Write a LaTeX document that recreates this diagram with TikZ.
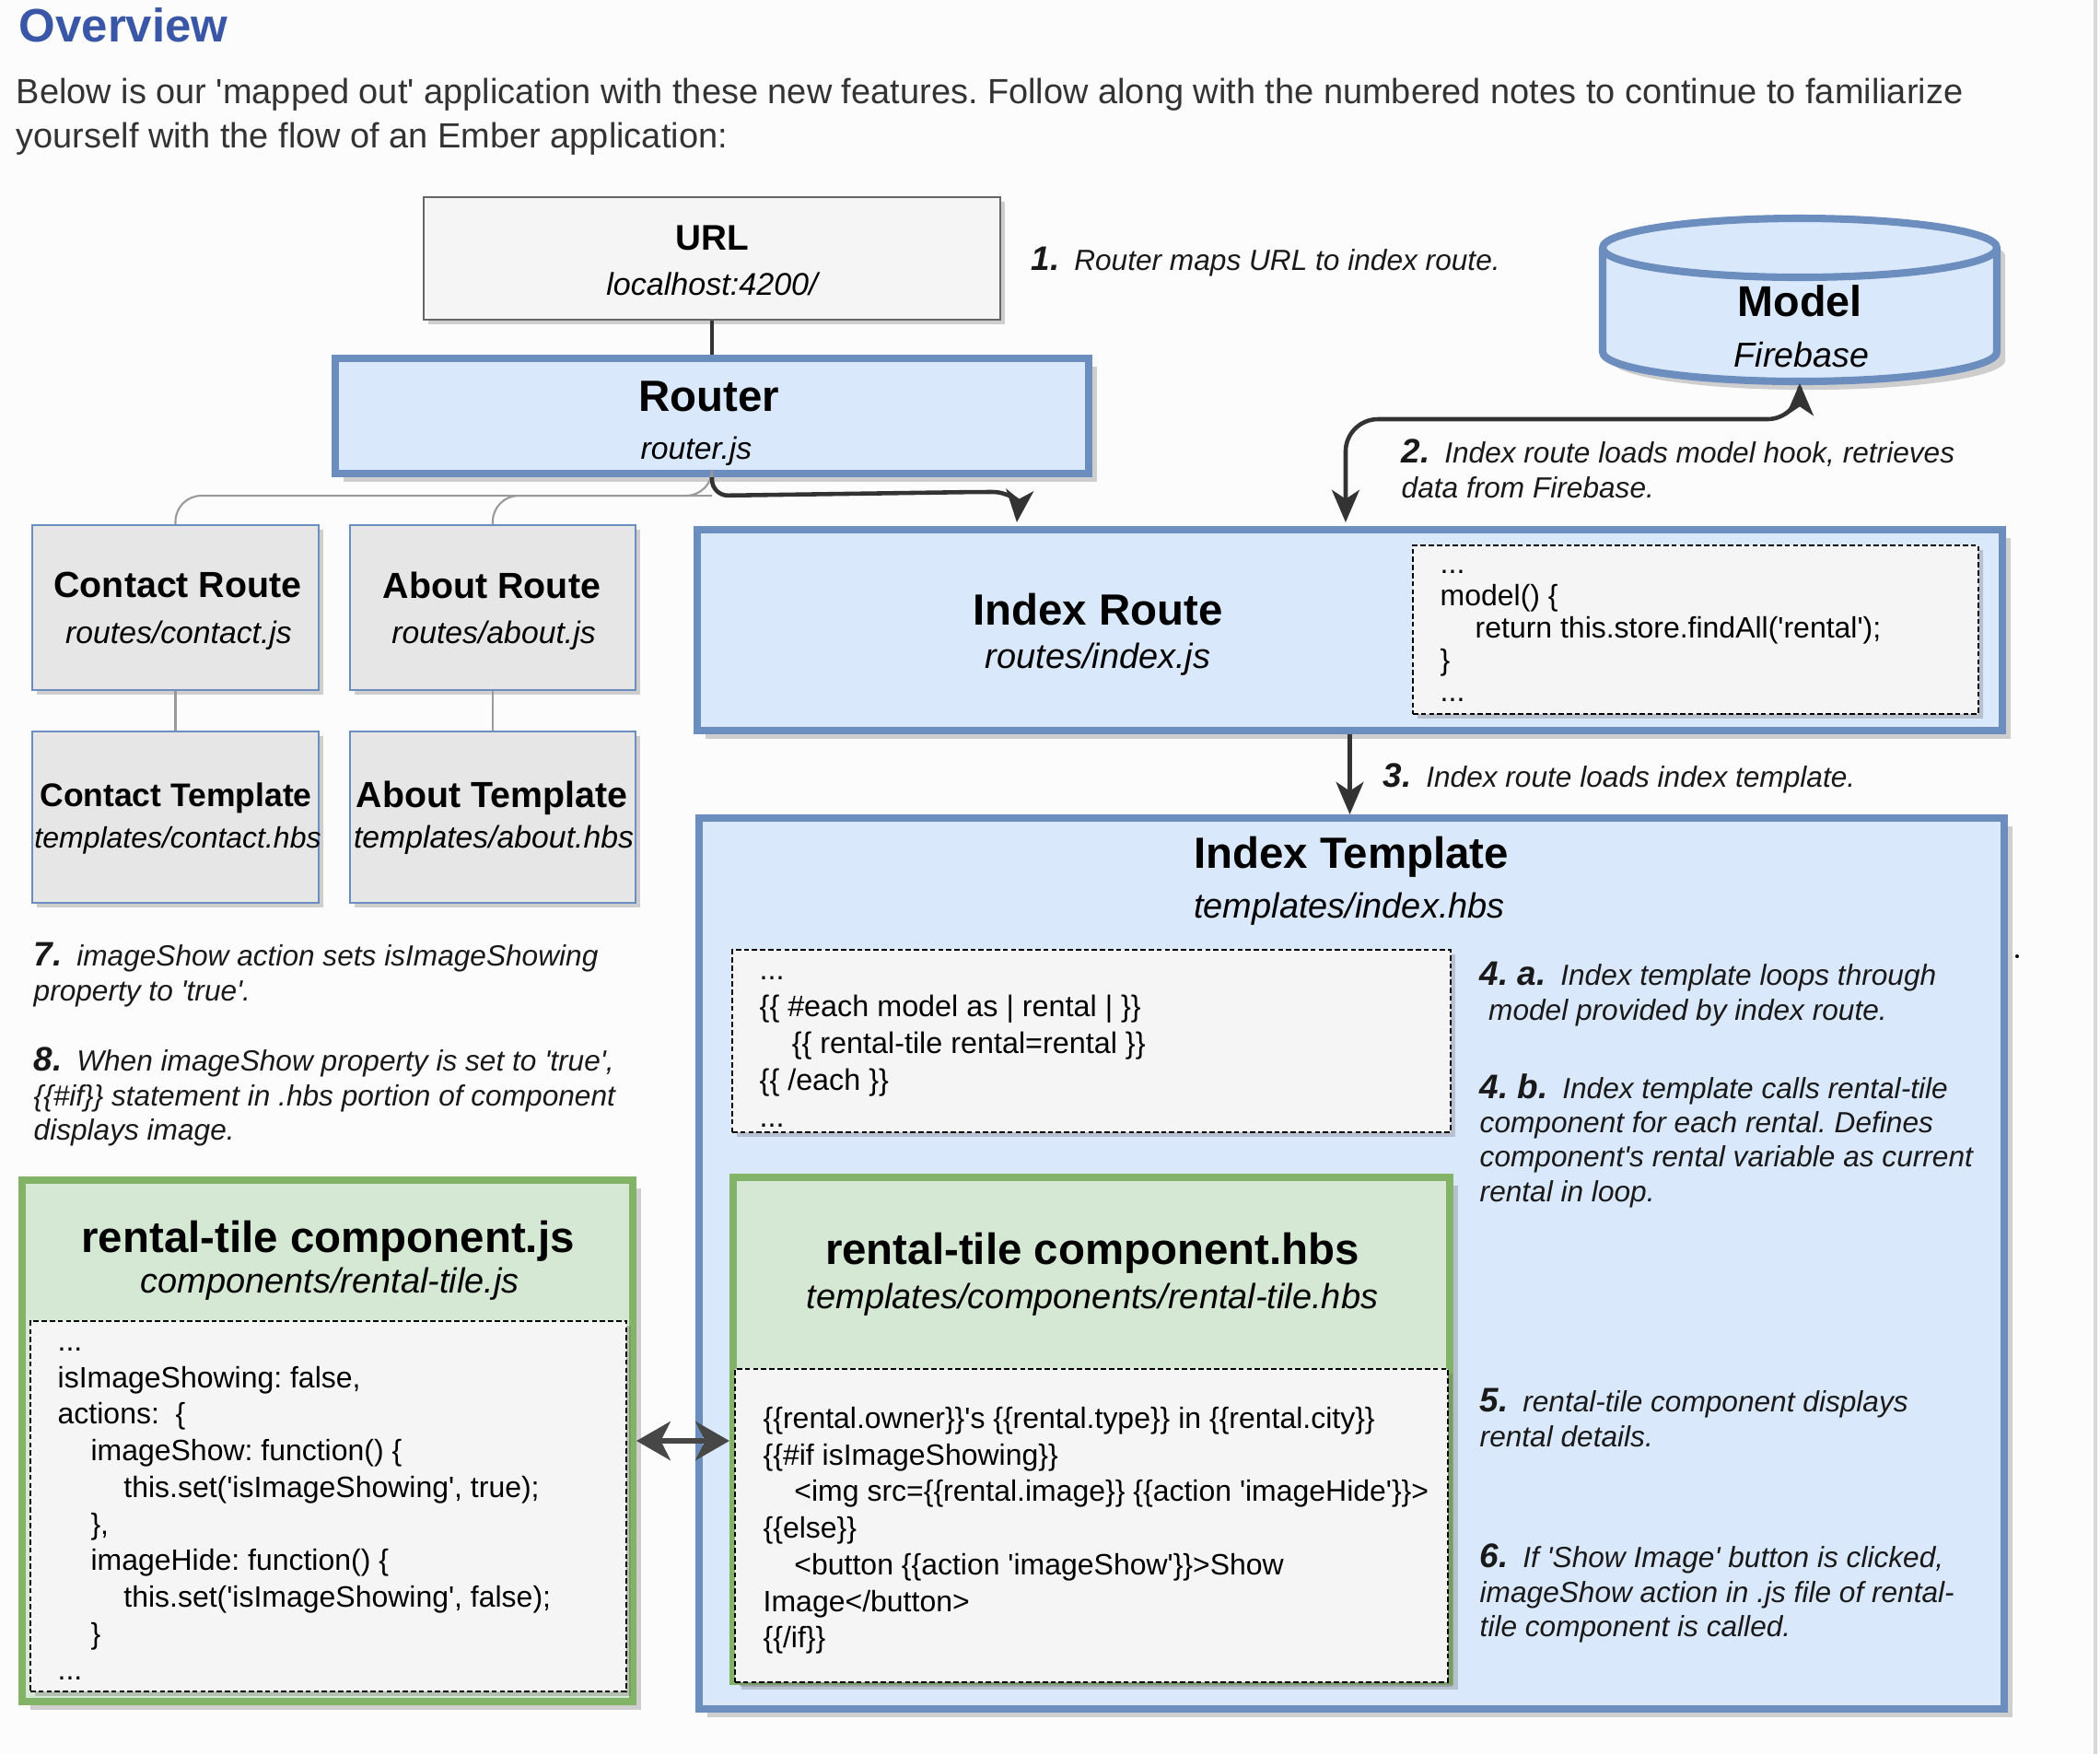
\documentclass[tikz,border=0pt]{standalone}
\usepackage{fontspec}
\setmainfont{Liberation Sans}[Ligatures=TeXOff]
\usetikzlibrary{arrows.meta, calc, shadows}
\definecolor{edgeblue}{HTML}{6C8EBF}
\definecolor{fillblue}{HTML}{DAE8FC}
\definecolor{edgegreen}{HTML}{82B366}
\definecolor{fillgreen}{HTML}{D5E8D4}
\definecolor{codegrey}{HTML}{F5F5F5}
\definecolor{routegrey}{HTML}{E6E6E6}
\definecolor{urledge}{HTML}{666666}
\definecolor{arrowdark}{HTML}{333333}
\definecolor{branchgrey}{HTML}{9A9A9A}
\definecolor{headblue}{HTML}{3A57A7}
\definecolor{introtext}{HTML}{333333}
\definecolor{pagebg}{HTML}{FCFCFC}
\newcommand{\noteno}[1]{{\fontsize{10.5}{10.6}\selectfont\bfseries #1}\hspace{0.5em}}
\frenchspacing

\begin{document}
\begin{tikzpicture}[
  thinbox/.style={draw, line width=0.6pt, inner sep=0pt,
    drop shadow={shadow xshift=1.5pt, shadow yshift=-1.5pt, opacity=0.3, fill=black!60}},
  thickbox/.style={draw, line width=2.3pt, inner sep=0pt,
    drop shadow={shadow xshift=2.6pt, shadow yshift=-2.6pt, opacity=0.3, fill=black!60}},
  bluebox/.style={thickbox, draw=edgeblue, fill=fillblue},
  greenbox/.style={thickbox, draw=edgegreen, fill=fillgreen},
  routebox/.style={thinbox, draw=edgeblue, fill=routegrey},
  urlbox/.style={thinbox, draw=urledge, fill=codegrey},
  codebox/.style={thinbox, draw=black, fill=codegrey, line width=0.45pt, dash pattern=on 1.6pt off 0.9pt},
  bigttl/.style={font=\fontsize{13.5}{15}\selectfont\bfseries},
  bigsub/.style={font=\fontsize{10.8}{12}\selectfont\itshape},
  code/.style={anchor=north west, inner sep=0pt, align=left, font=\fontsize{9.1}{11.3}\selectfont},
  note/.style={anchor=north west, inner sep=0pt, align=left, text=black!90, font=\fontsize{9}{10.6}\selectfont\itshape},
  flow/.style={draw=arrowdark, line width=1.3pt, -{Stealth[length=10pt, width=8.5pt, inset=2.8pt]}},
  link/.style={draw=arrowdark, line width=1.3pt},
  branch/.style={draw=branchgrey, line width=0.6pt, rounded corners=8pt}
]
  \useasboundingbox (0,0) rectangle (22.8,-19.04);
  \fill[pagebg] (0,0) rectangle (22.8,-19.04);
  \draw[black!15, line width=1.2pt] (22.75,0) -- (22.75,-19.04);

  % heading
  \node (overview) [anchor=base west, inner sep=0pt, text=headblue, font=\fontsize{14.5}{16}\selectfont\bfseries] at (0.20,-0.45) {Overview};
  \node (intro) [anchor=north west, inner sep=0pt, align=left, text=introtext, font=\fontsize{10.8}{13.6}\selectfont] at (0.17,-0.784) {\strut Below is our 'mapped out' application with these new features. Follow along with the numbered notes to continue to familiarize\\yourself with the flow of an Ember application:};

  % URL and router
  \node (url) [urlbox, minimum width=6.26cm, minimum height=1.33cm] at (7.73,-2.805) {};
  \node (urlttl) [font=\fontsize{11}{12}\selectfont\bfseries] at (7.73,-2.585) {URL};
  \node (urlsub) [font=\fontsize{9.7}{11}\selectfont\itshape] at (7.73,-3.085) {localhost:4200/};

  \node (router) [bluebox, minimum width=8.18cm, minimum height=1.25cm] at (7.73,-4.515) {};
  \node (routerttl) [bigttl] at (7.70,-4.305) {Router};
  \node (routersub) [font=\fontsize{9.6}{11}\selectfont\itshape] at (7.56,-4.90) {router.js};

  % model
  \coordinate (mdl) at (19.54,-3.255);
  \draw[edgeblue, fill=fillblue, line width=2.3pt, drop shadow={shadow xshift=2.6pt, shadow yshift=-2.6pt, opacity=0.3, fill=black!60}]
    ($(mdl)+(-2.14,0.565)$) -- ($(mdl)+(-2.14,-0.565)$)
    arc[start angle=180, end angle=360, x radius=2.14, y radius=0.32]
    -- ($(mdl)+(2.14,0.565)$)
    arc[start angle=0, end angle=180, x radius=2.14, y radius=0.32] -- cycle;
  \draw[edgeblue, line width=2.3pt] ($(mdl)+(-2.14,0.565)$) arc[start angle=180, end angle=360, x radius=2.14, y radius=0.32];
  \node (modelttl) [font=\fontsize{13.3}{15}\selectfont\bfseries] at (19.54,-3.27) {Model};
  \node (modelsub) [font=\fontsize{10.7}{12}\selectfont\itshape] at (19.56,-3.85) {Firebase};
  \coordinate (modelbase) at (19.54,-4.16);

  % other routes
  \node (contact) [routebox, minimum width=3.11cm, minimum height=1.79cm] at (1.905,-6.595) {};
  \node (about) [routebox, minimum width=3.10cm, minimum height=1.79cm] at (5.35,-6.595) {};
  \node (contacttpl) [routebox, minimum width=3.11cm, minimum height=1.86cm] at (1.905,-8.87) {};
  \node (abouttpl) [routebox, minimum width=3.10cm, minimum height=1.86cm] at (5.35,-8.87) {};
  \node (contactttl) [font=\fontsize{11.2}{12}\selectfont\bfseries] at (1.93,-6.35) {Contact Route};
  \node (contactsub) [font=\fontsize{9.6}{11}\selectfont\itshape] at (1.94,-6.90) {routes/contact.js};
  \node (aboutttl) [font=\fontsize{11.2}{12}\selectfont\bfseries] at (5.34,-6.35) {About Route};
  \node (aboutsub) [font=\fontsize{9.6}{11}\selectfont\itshape] at (5.36,-6.90) {routes/about.js};
  \node (contacttplttl) [font=\fontsize{10.1}{12}\selectfont\bfseries] at (1.91,-8.66) {Contact Template};
  \node (contacttplsub) [font=\fontsize{9.1}{11}\selectfont\itshape] at (1.93,-9.12) {templates/contact.hbs};
  \node (abouttplttl) [font=\fontsize{11.2}{12}\selectfont\bfseries] at (5.34,-8.66) {About Template};
  \node (abouttplsub) [font=\fontsize{9.6}{11}\selectfont\itshape] at (5.36,-9.12) {templates/about.hbs};

  % index route
  \node (ixroute) [bluebox, minimum width=14.17cm, minimum height=2.18cm] at (14.655,-6.84) {};
  \node (ixroutettl) [bigttl] at (11.92,-6.62) {Index Route};
  \node (ixroutesub) [bigsub] at (11.92,-7.16) {routes/index.js};
  \node (ixroutecode) [codebox, minimum width=6.14cm, minimum height=1.83cm] at (18.41,-6.835) {};
  \node (ixroutetxt) [code, font=\fontsize{9.1}{9.9}\selectfont] at (15.63,-5.976) {\strut...\\model() \{\\\hspace*{10.8pt}return this.store.findAll('rental');\\\}\\...};

  % index template
  \node (ixtpl) [bluebox, minimum width=14.17cm, minimum height=9.67cm] at (14.675,-13.715) {};
  \node (ixtplttl) [bigttl] at (14.67,-9.30) {Index Template};
  \node (ixtplsub) [bigsub] at (14.65,-9.87) {templates/index.hbs};
  \node (ixtplcode) [codebox, minimum width=7.80cm, minimum height=1.98cm] at (11.85,-11.30) {};
  \node (ixtpltxt) [code, font=\fontsize{9.2}{11.34}\selectfont] at (8.24,-10.35) {\strut...\\\{\{ \#each model as | rental | \}\}\\\hspace*{10pt}\{\{ rental-tile rental=rental \}\}\\\{\{ /each \}\}\\...};

  % rental-tile component, hbs part
  \node (hbscomp) [greenbox, minimum width=7.78cm, minimum height=5.47cm] at (11.85,-15.515) {};
  \node (hbsttl) [bigttl] at (11.86,-13.60) {rental-tile component.hbs};
  \node (hbssub) [bigsub] at (11.86,-14.11) {templates/components/rental-tile.hbs};
  \node (hbscode) [codebox, minimum width=7.74cm, minimum height=3.40cm] at (11.85,-16.56) {};
  \node (hbstxt) [code] at (8.28,-15.22) {\strut\{\{rental.owner\}\}'s \{\{rental.type\}\} in \{\{rental.city\}\}\\\{\{\#if isImageShowing\}\}\\\hspace*{9.6pt}<img src=\{\{rental.image\}\} \{\{action 'imageHide'\}\}>\\\{\{else\}\}\\\hspace*{9.6pt}<button \{\{action 'imageShow'\}\}>Show\\Image</button>\\\{\{/if\}\}};

  % rental-tile component, js part
  \node (jscomp) [greenbox, minimum width=6.63cm, minimum height=5.66cm] at (3.555,-15.64) {};
  \node (jsttl) [bigttl] at (3.56,-13.47) {rental-tile component.js};
  \node (jssub) [bigsub] at (3.58,-13.94) {components/rental-tile.js};
  \node (jscode) [codebox, minimum width=6.47cm, minimum height=4.02cm] at (3.565,-16.35) {};
  \node (jstxt) [code] at (0.62,-14.38) {\strut...\\isImageShowing: false,\\actions:\ \ \{\\\hspace*{10.2pt}imageShow: function() \{\\\hspace*{20.4pt}this.set('isImageShowing', true);\\\hspace*{10.2pt}\},\\\hspace*{10.2pt}imageHide: function() \{\\\hspace*{20.4pt}this.set('isImageShowing', false);\\\hspace*{10.2pt}\}\\...};

  % connectors
  \draw[link] (url.south) -- (router.north);
  \draw[branch] (router.south) -- ++(0,-0.2) -| (contact.north);
  \draw[branch] ($(router.south)+(0,-0.2)$) -| (about.north);
  \draw[branch] (contact.south) -- (contacttpl.north);
  \draw[branch] (about.south) -- (abouttpl.north);
  \draw[flow, rounded corners=5pt] (router.south) -- ++(0,-0.2) -- (10.60,-5.34)
    .. controls (10.95,-5.34) and (11.06,-5.45) .. ($(ixroute.north west)+(3.51,0.04)$);
  \draw[flow, {Stealth[length=10pt, width=8.5pt, inset=2.8pt]}-{Stealth[length=10pt, width=8.5pt, inset=2.8pt]}, rounded corners=10pt]
    ($(ixroute.north west)+(7.08,0.04)$) |- (modelbase |- 0,-4.55) -- (modelbase);
  \draw[flow] (ixroute.south) -- (ixroute.south |- ixtpl.north);
  \draw[draw=arrowdark!90, line width=1.5pt, {Stealth[length=10.5pt, width=12pt, inset=3pt]}-{Stealth[length=10.5pt, width=12pt, inset=3pt]}]
    (jscomp.east) -- (jscomp.east -| hbscomp.west);

  % numbered notes
  \node (note1) [note] at (11.19,-2.67) {\strut\noteno{1.}Router maps URL to index route.};
  \node (note2) [note] at (15.21,-4.76) {\strut\noteno{2.}Index route loads model hook, retrieves\\data from Firebase.};
  \node (note3) [note] at (15.01,-8.28) {\strut\noteno{3.}Index route loads index template.};
  \node (note4a) [note] at (16.06,-10.43) {\strut\noteno{4. a.}Index template loops through\\\hspace*{0.3em}model provided by index route.};
  \node (note4b) [note] at (16.06,-11.65) {\strut\noteno{4. b.}Index template calls rental-tile\\component for each rental. Defines\\component's rental variable as current\\rental in loop.};
  \node (note5) [note] at (16.06,-15.06) {\strut\noteno{5.}rental-tile component displays\\rental details.};
  \node (note6) [note] at (16.06,-16.75) {\strut\noteno{6.}If 'Show Image' button is clicked,\\imageShow action in .js file of rental-\\tile component is called.};
  \node (note7) [note] at (0.36,-10.22) {\strut\noteno{7.}imageShow action sets isImageShowing\\property to 'true'.};
  \node (note8) [note] at (0.36,-11.36) {\strut\noteno{8.}When imageShow property is set to 'true',\\\{\{\#if\}\} statement in .hbs portion of component\\displays image.};
  \fill (21.90,-10.38) circle (0.02);
\end{tikzpicture}
\end{document}
